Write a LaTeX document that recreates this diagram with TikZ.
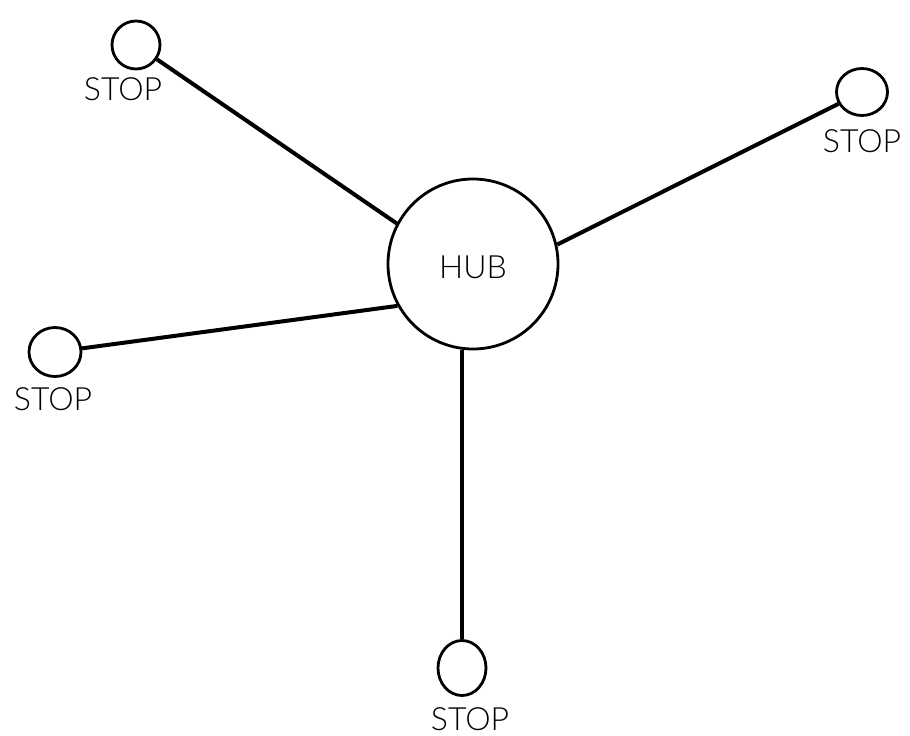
\documentclass[tikz,border=0pt]{standalone}
\usepackage{fontspec}
\usetikzlibrary{shapes.geometric}
\setmainfont{Lato}[UprightFont=* Light]
\begin{document}
\begin{tikzpicture}[x=1pt,y=-1pt,
  hubnode/.style={circle,draw,line width=2.8pt,minimum size=170pt,inner sep=0pt},
  stopnode/.style={circle,draw,line width=2.8pt,minimum size=48pt,inner sep=0pt},
  lbl/.style={font=\fontsize{32}{32}\selectfont,inner sep=0pt},
  link/.style={line width=4pt}]
  \useasboundingbox (0,0) rectangle (910,736);
  % central hub
  \node[hubnode] (hub) at (473,264) {};
  \node[lbl] (hubtxt) at (473,267) {HUB};
  % outlying stops
  \node[stopnode] (s1) at (136,45) {};
  \node[lbl] (t1) at (123,89) {STOP};
  \node[stopnode,minimum width=51pt,minimum height=47pt,ellipse] (s2) at (862,92) {};
  \node[lbl] (t2) at (862,141) {STOP};
  \node[stopnode,minimum width=52pt,minimum height=49pt,ellipse] (s3) at (55,352) {};
  \node[lbl] (t3) at (53,399) {STOP};
  \node[stopnode,ellipse,minimum height=55pt,minimum width=48pt] (s4) at (462,668) {};
  \node[lbl] (t4) at (470,719) {STOP};
  % spokes
  \draw[link] (s1) -- (hub.152);
  \draw[link] (s2) -- (hub.13);
  \draw[link] (s3) -- (hub.209);
  \draw[link] (s4.north) -- (s4.north |- hub.south);
\end{tikzpicture}
\end{document}
